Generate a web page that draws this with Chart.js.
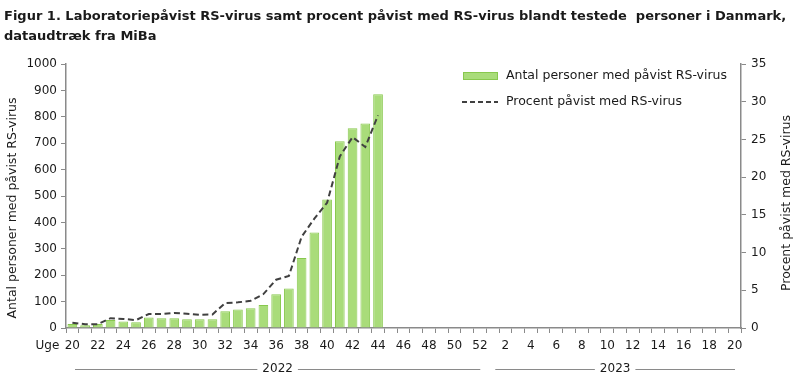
<!DOCTYPE html>
<html>
<head>
<meta charset="utf-8">
<script src="https://cdn.jsdelivr.net/npm/chart.js@4.4.1/dist/chart.umd.min.js"></script>
<style>
html,body{margin:0;padding:0;background:#fff;}
#wrap{width:800px;height:379px;position:relative;}
</style>
</head>
<body>
<div id="wrap"><canvas id="c" width="800" height="379"></canvas></div>
<script>
const weeks2022 = [20,21,22,23,24,25,26,27,28,29,30,31,32,33,34,35,36,37,38,39,40,41,42,43,44,45,46,47,48,49,50,51,52];
const weeks2023 = [1,2,3,4,5,6,7,8,9,10,11,12,13,14,15,16,17,18,19,20];
const categories = weeks2022.map(String).concat(weeks2023.map(String));
const antalPositive = [15,10,15,30,25,22,40,37,37,33,33,33,63,70,75,87,128,150,265,362,487,707,757,775,885];
const procentPositive = [0.7,0.5,0.5,1.3,1.2,1.05,1.85,1.85,2.0,1.9,1.75,1.8,3.3,3.4,3.6,4.5,6.4,6.9,12.1,14.5,16.6,22.75,25.3,24.0,28.2];
const yearLabels = ["2022","2023"];
const titleLines = ["Figur 1. Laboratoriepåvist RS-virus samt procent påvist med RS-virus blandt testede  personer i Danmark,","dataudtræk fra MiBa"];
const seriesNames = ["Antal personer med påvist RS-virus","Procent påvist med RS-virus"];
const axisTitles = ["Antal personer med påvist RS-virus","Procent påvist med RS-virus"];

const pad = (arr) => arr.concat(new Array(categories.length - arr.length).fill(null));
const FONT = "'DejaVu Sans', sans-serif";
const TXT = '#1a1a1a';
const AX = '#8a8a8a';
const BAR_FILL = '#a9dc7a';
const BAR_BORDER = '#88c84e';
const LINE_COL = '#404040';

const decor = {
  id: 'decor',
  afterDraw(chart) {
    const ctx = chart.ctx;
    const x = chart.scales.x;
    ctx.save();
    // title
    ctx.fillStyle = TXT;
    ctx.textBaseline = 'alphabetic';
    ctx.textAlign = 'left';
    let fs = 16;
    ctx.font = 'bold ' + fs + 'px ' + FONT;
    while (ctx.measureText(titleLines[0]).width > 790 && fs > 8) { fs -= 0.25; ctx.font = 'bold ' + fs + 'px ' + FONT; }
    ctx.fillText(titleLines[0], 4, 20);
    ctx.fillText(titleLines[1], 4, 40);
    // Uge
    ctx.font = '12px ' + FONT;
    ctx.textAlign = 'right';
    ctx.textBaseline = 'middle';
    ctx.fillText('Uge', x.getPixelForValue(0) - 13, 346);
    // year groups
    const half = (x.getPixelForValue(1) - x.getPixelForValue(0)) / 2;
    const groups = [[0, weeks2022.length - 1], [weeks2022.length, categories.length - 1]];
    ctx.font = '12px ' + FONT;
    ctx.textAlign = 'center';
    groups.forEach((g, i) => {
      const l = x.getPixelForValue(g[0]) - half + 9;
      const r = x.getPixelForValue(g[1]) + half - 6;
      const cx = (l + r) / 2;
      const tw = ctx.measureText(yearLabels[i]).width;
      const y = 369;
      ctx.strokeStyle = AX; ctx.lineWidth = 1;
      ctx.beginPath();
      ctx.moveTo(l, y + 0.5); ctx.lineTo(cx - tw / 2 - 5, y + 0.5);
      ctx.moveTo(cx + tw / 2 + 5, y + 0.5); ctx.lineTo(r, y + 0.5);
      ctx.stroke();
      ctx.fillStyle = TXT;
      ctx.fillText(yearLabels[i], cx, y);
    });
    // axis titles
    ctx.font = '12.5px ' + FONT;
    ctx.save();
    ctx.translate(13, 208); ctx.rotate(-Math.PI / 2);
    ctx.fillText(axisTitles[0], 0, 0);
    ctx.restore();
    ctx.save();
    ctx.translate(787, 203); ctx.rotate(-Math.PI / 2);
    ctx.fillText(axisTitles[1], 0, 0);
    ctx.restore();
    // legend
    ctx.font = '12.5px ' + FONT;
    ctx.textAlign = 'left';
    ctx.fillStyle = BAR_FILL; ctx.strokeStyle = BAR_BORDER; ctx.lineWidth = 1;
    ctx.fillRect(463.5, 72.5, 34, 7);
    ctx.strokeRect(463.5, 72.5, 34, 7);
    ctx.fillStyle = TXT;
    ctx.fillText(seriesNames[0], 506, 76);
    ctx.strokeStyle = LINE_COL; ctx.lineWidth = 2; ctx.setLineDash([5, 3]);
    ctx.beginPath(); ctx.moveTo(462, 102); ctx.lineTo(498, 102); ctx.stroke();
    ctx.setLineDash([]);
    ctx.fillText(seriesNames[1], 506, 102);
    ctx.restore();
  }
};

new Chart(document.getElementById('c'), {
  data: {
    labels: categories,
    datasets: [
      {
        type: 'line', label: seriesNames[1], data: pad(procentPositive), yAxisID: 'y1',
        borderColor: LINE_COL, borderWidth: 2, borderDash: [6, 3.5], pointRadius: 0,
        tension: 0, fill: false, spanGaps: false, order: 0
      },
      {
        type: 'bar', label: seriesNames[0], data: pad(antalPositive), yAxisID: 'y',
        backgroundColor: BAR_FILL, borderColor: BAR_BORDER, borderWidth: 1,
        categoryPercentage: 1, barPercentage: 0.76, order: 1
      }
    ]
  },
  options: {
    responsive: false, animation: false,
    layout: { padding: { top: 64, left: 0, right: 0, bottom: 0 } },
    plugins: { legend: { display: false }, title: { display: false }, tooltip: { enabled: false } },
    scales: {
      x: {
        offset: true,
        grid: { offset: true, drawOnChartArea: false, color: AX, tickLength: 5, tickColor: AX },
        border: { color: AX, width: 1.5 },
        ticks: {
          autoSkip: false, maxRotation: 0, color: TXT, font: { family: FONT, size: 12 }, padding: 6,
          callback: function (v, i) { return i % 2 === 0 ? this.getLabelForValue(v) : ''; }
        },
        afterFit: (s) => { s.height = 51; }
      },
      y: {
        position: 'left', min: 0, max: 1000,
        grid: { drawOnChartArea: false, color: AX, tickLength: 5, tickColor: AX },
        border: { color: AX, width: 1.5 },
        ticks: { stepSize: 100, color: TXT, font: { family: FONT, size: 12 }, padding: 4, callback: (v) => String(v) },
        afterFit: (s) => { s.width = 66; }
      },
      y1: {
        position: 'right', min: 0, max: 35,
        grid: { drawOnChartArea: false, color: AX, tickLength: 5, tickColor: AX },
        border: { color: AX, width: 1.5 },
        ticks: { stepSize: 5, color: TXT, font: { family: FONT, size: 12 }, padding: 5, callback: (v) => String(v) },
        afterFit: (s) => { s.width = 59; }
      }
    }
  },
  plugins: [decor]
});
</script>
</body>
</html>
